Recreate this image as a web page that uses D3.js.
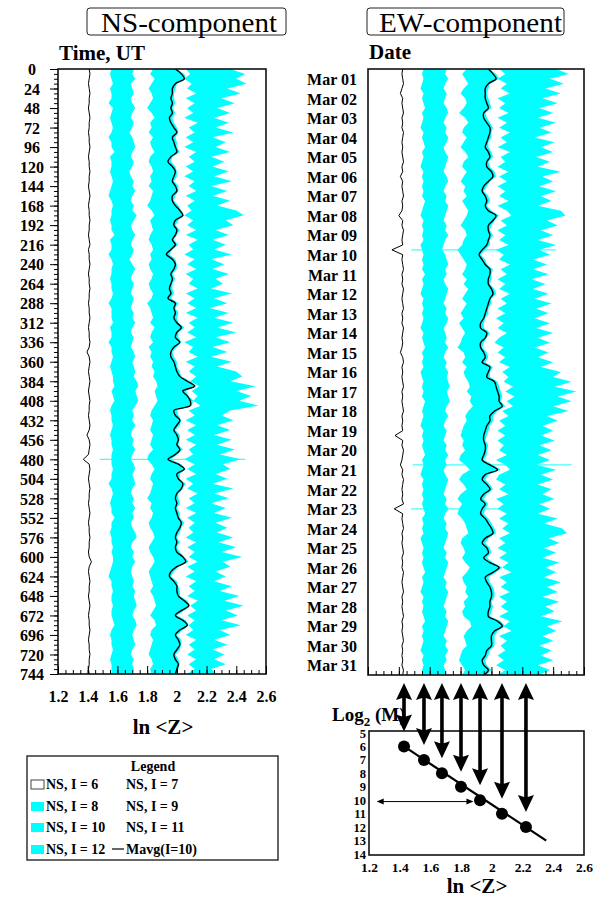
<!DOCTYPE html>
<html><head><meta charset="utf-8">
<script src="https://cdn.jsdelivr.net/npm/d3@7"></script>
<style>
html,body{margin:0;padding:0;background:#fff;}
svg{display:block;}
text{font-family:"Liberation Serif","Times New Roman",serif;}
</style></head><body>
<svg id="c" width="597" height="897"></svg>
<script>
// ---------------- DATA ----------------
const STEP_H = 6; // hours between samples
const hourTicks = [0,24,48,72,96,120,144,168,192,216,240,264,288,312,336,360,384,408,432,456,480,504,528,552,576,600,624,648,672,696,720,744];
const dateLabels = ["Mar 01","Mar 02","Mar 03","Mar 04","Mar 05","Mar 06","Mar 07","Mar 08","Mar 09","Mar 10","Mar 11","Mar 12","Mar 13","Mar 14","Mar 15","Mar 16","Mar 17","Mar 18","Mar 19","Mar 20","Mar 21","Mar 22","Mar 23","Mar 24","Mar 25","Mar 26","Mar 27","Mar 28","Mar 29","Mar 30","Mar 31"];
const lnzTicks = [1.2,1.4,1.6,1.8,2.0,2.2,2.4,2.6];
const lnzLabels = ["1.2","1.4","1.6","1.8","2","2.2","2.4","2.6"];
const mTicks = [5,6,7,8,9,10,11,12,13,14];

// NS component, ln<Z> for I = 6..12 and moving average of I=10
const nsI6 = [1.41,1.415,1.41,1.405,1.41, 1.415,1.41,1.41,1.405,1.41, 1.415,1.41,1.41,1.405,1.41, 1.41,1.415,1.41,1.405,1.41, 1.41,1.415,1.41,1.41,1.405,
 1.41,1.415,1.41,1.405,1.41, 1.41,1.415,1.41,1.41,1.405, 1.41,1.415,1.405,1.41,1.41, 1.415,1.41,1.405,1.41,1.41, 1.415,1.41,1.41,1.405,1.41,
 1.41,1.415,1.41,1.405,1.41, 1.41,1.415,1.41,1.395,1.41, 1.415,1.41,1.405,1.41,1.415, 1.41,1.405,1.41,1.415,1.41, 1.41,1.405,1.41,1.415,1.41,
 1.395,1.41,1.415,1.41,1.405, 1.37,1.41,1.415,1.41,1.405, 1.41,1.415,1.41,1.41,1.405, 1.41,1.415,1.41,1.405,1.41, 1.41,1.415,1.41,1.41,1.405,
 1.41,1.425,1.41,1.405,1.41, 1.415,1.41,1.41,1.405,1.41, 1.415,1.41,1.405,1.41,1.41, 1.415,1.41,1.405,1.41,1.41, 1.415,1.41,1.41,1.405,1.41];
const nsI7 = [1.56,1.55,1.56,1.57,1.55, 1.56,1.56,1.54,1.57,1.56, 1.55,1.56,1.57,1.56,1.54, 1.56,1.56,1.58,1.55,1.56, 1.56,1.55,1.56,1.57,1.56,
 1.55,1.54,1.56,1.57,1.56, 1.56,1.55,1.56,1.56,1.58, 1.55,1.56,1.56,1.54,1.56, 1.57,1.56,1.56,1.55,1.56, 1.56,1.57,1.56,1.54,1.56,
 1.56,1.56,1.57,1.55,1.56, 1.56,1.54,1.56,1.56,1.57, 1.56,1.55,1.56,1.57,1.57, 1.58,1.56,1.57,1.58,1.56, 1.55,1.56,1.56,1.57,1.56,
 1.55,1.56,1.56,1.57,1.56, 1.56,1.56,1.57,1.56,1.56, 1.54,1.56,1.57,1.56,1.55, 1.56,1.56,1.58,1.56,1.56, 1.55,1.56,1.56,1.57,1.56,
 1.57,1.57,1.56,1.55,1.54, 1.56,1.56,1.57,1.56,1.56, 1.57,1.56,1.56,1.57,1.58, 1.56,1.55,1.56,1.56,1.57, 1.56,1.55,1.56,1.56,1.56];
const nsI8 = [1.71,1.70,1.72,1.69,1.70, 1.71,1.69,1.70,1.72,1.70, 1.69,1.71,1.70,1.68,1.70, 1.71,1.72,1.70,1.69,1.71, 1.70,1.68,1.69,1.71,1.70,
 1.72,1.70,1.69,1.71,1.70, 1.73,1.71,1.69,1.70,1.72, 1.70,1.69,1.71,1.70,1.68, 1.70,1.72,1.70,1.69,1.71, 1.70,1.69,1.71,1.70,1.69,
 1.71,1.70,1.72,1.70,1.69, 1.71,1.70,1.69,1.71,1.72, 1.70,1.71,1.72,1.71,1.73, 1.74,1.72,1.73,1.74,1.72, 1.70,1.71,1.70,1.72,1.70,
 1.69,1.71,1.70,1.72,1.70, 1.69,1.71,1.72,1.70,1.71, 1.72,1.70,1.69,1.71,1.70, 1.72,1.70,1.71,1.69,1.70, 1.72,1.73,1.70,1.69,1.71,
 1.70,1.72,1.70,1.69,1.70, 1.71,1.70,1.72,1.71,1.72, 1.73,1.71,1.70,1.72,1.73, 1.71,1.70,1.71,1.72,1.70, 1.69,1.71,1.70,1.71,1.70];
const nsI9 = [1.84,1.82,1.85,1.83,1.81, 1.83,1.84,1.82,1.80,1.83, 1.85,1.82,1.83,1.81,1.84, 1.82,1.83,1.85,1.82,1.81, 1.83,1.84,1.82,1.83,1.81,
 1.84,1.83,1.82,1.80,1.83, 1.85,1.82,1.83,1.84,1.82, 1.81,1.83,1.84,1.82,1.83, 1.81,1.82,1.84,1.83,1.81, 1.82,1.84,1.83,1.80,1.82,
 1.83,1.84,1.82,1.85,1.83, 1.82,1.84,1.81,1.83,1.82, 1.84,1.83,1.85,1.84,1.86, 1.87,1.85,1.86,1.87,1.85, 1.83,1.82,1.84,1.83,1.82,
 1.84,1.83,1.82,1.84,1.81, 1.80,1.83,1.85,1.83,1.82, 1.84,1.83,1.82,1.80,1.83, 1.82,1.84,1.83,1.81,1.82, 1.84,1.85,1.83,1.81,1.82,
 1.84,1.85,1.83,1.81,1.82, 1.83,1.84,1.82,1.84,1.85, 1.86,1.84,1.82,1.85,1.86, 1.83,1.82,1.84,1.83,1.82, 1.81,1.83,1.84,1.82,1.83];
const nsI10 = [2.00,2.05,2.06,2.00,1.99, 1.98,1.98,1.99,1.97,1.99, 1.97,1.98,2.00,2.01,1.99, 2.00,2.00,2.02,1.97,1.96, 1.99,2.00,2.00,1.98,2.01,
 2.01,1.99,1.98,2.01,2.03, 2.05,2.01,1.99,2.02,2.00, 1.98,2.01,1.97,1.95,1.99, 2.00,2.00,1.97,1.99,1.97, 1.97,1.98,1.96,2.01,1.99,
 2.01,2.00,2.01,2.05,2.01, 2.01,2.03,2.00,1.97,1.98, 2.00,2.00,2.02,2.03,2.09, 2.13,2.06,2.08,2.11,2.10, 2.00,2.01,2.03,2.02,1.99,
 2.02,2.02,2.01,2.04,2.00, 1.96,2.03,2.06,2.02,2.02, 2.06,2.04,2.01,2.01,2.02, 2.00,2.02,2.02,2.05,2.03, 2.02,2.00,2.02,2.00,2.02,
 2.05,2.08,2.01,1.98,1.96, 2.00,2.01,2.02,2.02,2.07, 2.09,2.05,2.00,2.06,2.08, 2.04,2.00,2.03,2.03,2.02, 1.99,2.01,2.02,2.01,2.00];
const nsI11 = [2.06,2.09,2.05,2.10,2.07, 2.13,2.06,2.12,2.07,2.11, 2.05,2.14,2.08,2.12,2.06, 2.11,2.05,2.13,2.08,2.12, 2.06,2.11,2.05,2.12,2.08,
 2.13,2.06,2.12,2.07,2.10, 2.05,2.11,2.07,2.13,2.06, 2.14,2.08,2.11,2.05,2.12, 2.07,2.13,2.06,2.11,2.08, 2.14,2.06,2.12,2.07,2.13,
 2.06,2.14,2.08,2.12,2.07, 2.13,2.05,2.11,2.08,2.14, 2.06,2.12,2.08,2.13,2.09, 2.15,2.10,2.14,2.11,2.16, 2.08,2.12,2.06,2.13,2.07,
 2.12,2.06,2.13,2.08,2.11, 2.05,2.12,2.07,2.13,2.06, 2.11,2.07,2.14,2.08,2.12, 2.06,2.13,2.07,2.12,2.08, 2.11,2.06,2.13,2.07,2.12,
 2.08,2.14,2.07,2.12,2.06, 2.13,2.08,2.12,2.07,2.14, 2.09,2.13,2.07,2.12,2.08, 2.11,2.06,2.13,2.08,2.12, 2.07,2.13,2.08,2.12,2.07];
const nsI12 = [2.36,2.46,2.40,2.47,2.34, 2.43,2.30,2.39,2.27,2.36, 2.25,2.35,2.26,2.38,2.24, 2.33,2.26,2.36,2.23,2.32, 2.24,2.35,2.25,2.37,2.23,
 2.34,2.24,2.36,2.27,2.40, 2.45,2.33,2.38,2.26,2.35, 2.24,2.33,2.25,2.37,2.23, 2.32,2.24,2.35,2.26,2.31, 2.23,2.37,2.25,2.34,2.22,
 2.35,2.25,2.38,2.27,2.40, 2.26,2.36,2.24,2.34,2.23, 2.37,2.27,2.40,2.44,2.36, 2.53,2.40,2.50,2.42,2.55, 2.36,2.30,2.38,2.27,2.36,
 2.25,2.37,2.27,2.39,2.29, 2.43,2.31,2.36,2.26,2.34, 2.24,2.38,2.25,2.35,2.23, 2.33,2.25,2.37,2.26,2.34, 2.27,2.38,2.28,2.40,2.30,
 2.44,2.31,2.36,2.26,2.33, 2.25,2.37,2.29,2.42,2.32, 2.45,2.33,2.41,2.30,2.43, 2.29,2.36,2.25,2.34,2.24, 2.32,2.25,2.33,2.23,2.27];
const nsMavg = [1.99,2.03,2.05,1.99,1.97, 1.97,1.96,1.97,1.96,1.97, 1.95,1.96,1.98,2.00,1.97, 1.98,1.99,2.00,1.96,1.94, 1.97,1.99,1.98,1.97,1.99,
 2.00,1.97,1.97,1.99,2.02, 2.04,1.99,1.98,2.00,1.99, 1.97,1.99,1.96,1.93,1.97, 1.99,1.98,1.96,1.97,1.96, 1.95,1.96,1.94,1.99,1.98,
 1.99,1.98,2.00,2.03,2.00, 1.99,2.02,1.98,1.96,1.96, 1.98,1.99,2.00,2.02,2.07, 2.12,2.04,2.07,2.09,2.09, 1.98,1.99,2.02,2.00,1.98,
 2.00,2.01,2.00,2.02,1.99, 1.94,2.01,2.05,2.00,2.01, 2.04,2.03,2.00,1.99,2.00, 1.99,2.00,2.01,2.03,2.02, 2.00,1.99,2.00,1.99,2.00,
 2.04,2.06,2.00,1.96,1.95, 1.98,2.00,2.00,2.01,2.05, 2.08,2.03,1.99,2.04,2.07, 2.02,1.99,2.01,2.02,2.00, 1.98,1.99,2.01,2.00,1.99];
const nsGlitchT = [480], nsGlitchLo = [1.48], nsGlitchHi = [2.46];

// EW component
const ewI6 = [1.425,1.42,1.425,1.43,1.42, 1.41,1.425,1.42,1.425,1.43, 1.42,1.425,1.42,1.43,1.425, 1.42,1.425,1.42,1.425,1.43, 1.42,1.425,1.41,1.425,1.42,
 1.425,1.43,1.42,1.425,1.42, 1.40,1.425,1.42,1.43,1.425, 1.42,1.425,1.355,1.425,1.42, 1.425,1.43,1.42,1.425,1.42, 1.43,1.425,1.42,1.425,1.43,
 1.42,1.425,1.42,1.43,1.425, 1.42,1.425,1.42,1.41,1.425, 1.43,1.42,1.425,1.42,1.425, 1.43,1.42,1.425,1.42,1.425, 1.43,1.42,1.425,1.42,1.425,
 1.375,1.425,1.42,1.43,1.425, 1.42,1.41,1.425,1.42,1.43, 1.425,1.42,1.425,1.42,1.43, 1.37,1.425,1.42,1.425,1.43, 1.42,1.425,1.42,1.425,1.43,
 1.42,1.425,1.42,1.43,1.425, 1.42,1.425,1.43,1.42,1.425, 1.42,1.425,1.43,1.42,1.425, 1.42,1.425,1.43,1.42,1.425, 1.42,1.425,1.42,1.43,1.425];
const ewI7 = [1.56,1.55,1.56,1.55,1.54, 1.56,1.55,1.56,1.57,1.55, 1.56,1.55,1.54,1.56,1.55, 1.56,1.57,1.55,1.56,1.55, 1.54,1.56,1.55,1.56,1.55,
 1.56,1.55,1.57,1.56,1.55, 1.54,1.56,1.55,1.56,1.55, 1.56,1.54,1.55,1.56,1.55, 1.56,1.55,1.57,1.55,1.56, 1.55,1.54,1.56,1.55,1.56,
 1.55,1.56,1.55,1.54,1.56, 1.55,1.56,1.57,1.55,1.56, 1.55,1.56,1.54,1.55,1.56, 1.55,1.56,1.55,1.57,1.56, 1.55,1.56,1.55,1.54,1.56,
 1.55,1.56,1.55,1.56,1.57, 1.55,1.56,1.55,1.54,1.56, 1.55,1.56,1.55,1.56,1.55, 1.56,1.57,1.55,1.56,1.55, 1.56,1.54,1.55,1.56,1.55,
 1.56,1.55,1.56,1.57,1.55, 1.56,1.55,1.54,1.56,1.55, 1.56,1.55,1.56,1.57,1.55, 1.56,1.55,1.56,1.55,1.54, 1.56,1.55,1.56,1.55,1.56];
const ewI8 = [1.71,1.70,1.72,1.70,1.69, 1.71,1.70,1.69,1.71,1.72, 1.70,1.69,1.71,1.70,1.72, 1.71,1.69,1.70,1.72,1.71, 1.70,1.69,1.71,1.72,1.70,
 1.69,1.71,1.70,1.72,1.71, 1.70,1.69,1.71,1.70,1.72, 1.70,1.69,1.68,1.70,1.71, 1.72,1.70,1.71,1.69,1.70, 1.72,1.71,1.70,1.69,1.71,
 1.70,1.72,1.71,1.69,1.70, 1.71,1.70,1.72,1.70,1.69, 1.71,1.70,1.72,1.71,1.72, 1.73,1.71,1.72,1.73,1.71, 1.70,1.72,1.70,1.69,1.71,
 1.70,1.69,1.71,1.70,1.72, 1.70,1.71,1.69,1.70,1.72, 1.71,1.70,1.69,1.71,1.70, 1.72,1.70,1.69,1.71,1.70, 1.72,1.71,1.70,1.69,1.71,
 1.70,1.72,1.71,1.70,1.69, 1.71,1.70,1.72,1.71,1.70, 1.69,1.71,1.70,1.72,1.71, 1.70,1.69,1.71,1.70,1.72, 1.70,1.71,1.69,1.70,1.71];
const ewI9 = [1.84,1.81,1.83,1.85,1.82, 1.80,1.83,1.84,1.82,1.79, 1.83,1.85,1.82,1.81,1.84, 1.82,1.80,1.83,1.85,1.82, 1.81,1.84,1.82,1.80,1.83,
 1.82,1.84,1.81,1.83,1.85, 1.84,1.82,1.80,1.83,1.84, 1.82,1.81,1.78,1.80,1.82, 1.84,1.83,1.81,1.84,1.82, 1.85,1.83,1.81,1.84,1.82,
 1.80,1.82,1.79,1.81,1.83, 1.81,1.80,1.78,1.82,1.83, 1.81,1.84,1.82,1.83,1.85, 1.86,1.84,1.87,1.86,1.88, 1.85,1.83,1.84,1.82,1.81,
 1.80,1.82,1.81,1.83,1.80, 1.79,1.83,1.86,1.81,1.79, 1.82,1.84,1.80,1.78,1.81, 1.79,1.78,1.81,1.83,1.84, 1.85,1.81,1.80,1.82,1.83,
 1.81,1.83,1.86,1.84,1.81, 1.82,1.84,1.83,1.85,1.82, 1.83,1.81,1.82,1.86,1.87, 1.84,1.82,1.83,1.84,1.81, 1.80,1.79,1.81,1.83,1.81];
const ewI10 = [1.99,2.03,2.05,1.99,1.98, 1.97,1.98,1.99,2.00,1.96, 1.97,1.99,2.01,2.00,2.00, 1.98,1.98,2.00,2.01,1.98, 1.99,2.02,2.03,1.99,1.97,
 1.95,1.98,1.99,1.97,2.00, 2.05,2.02,2.00,1.99,2.01, 1.99,1.99,1.96,1.93,1.96, 1.97,2.01,2.00,2.00,1.99, 2.02,2.03,2.00,2.00,1.98,
 1.98,1.96,1.95,1.95,1.99, 1.97,1.95,1.94,1.97,1.98, 1.96,2.01,1.99,1.99,2.04, 2.05,2.06,2.07,2.06,2.09, 2.04,2.01,2.01,1.99,1.98,
 1.97,1.96,1.98,1.97,1.97, 1.95,2.01,2.06,1.98,1.96, 1.99,2.01,1.97,1.95,1.98, 1.96,1.95,1.98,2.00,2.02, 2.03,1.98,1.96,1.99,2.00,
 1.97,2.01,2.07,2.03,1.98, 1.99,2.01,2.02,2.02,2.00, 2.01,2.00,1.99,2.06,2.09, 2.04,2.02,2.02,2.02,1.99, 1.98,1.96,1.97,2.00,1.97];
const ewI11 = [2.05,2.09,2.04,2.10,2.06, 2.12,2.04,2.09,2.05,2.11, 2.04,2.10,2.05,2.12,2.06, 2.10,2.04,2.12,2.06,2.09, 2.04,2.11,2.05,2.10,2.04,
 2.09,2.05,2.11,2.04,2.10, 2.13,2.06,2.10,2.04,2.09, 2.05,2.11,2.03,2.08,2.05, 2.12,2.06,2.10,2.04,2.09, 2.05,2.12,2.06,2.10,2.04,
 2.09,2.03,2.08,2.04,2.10, 2.05,2.02,2.08,2.04,2.09, 2.05,2.12,2.07,2.11,2.08, 2.14,2.09,2.15,2.10,2.14, 2.07,2.11,2.05,2.09,2.04,
 2.09,2.04,2.08,2.05,2.10, 2.03,2.09,2.12,2.05,2.03, 2.09,2.05,2.11,2.03,2.08, 2.04,2.10,2.05,2.11,2.07, 2.12,2.05,2.09,2.04,2.10,
 2.05,2.11,2.07,2.13,2.05, 2.10,2.06,2.12,2.05,2.10, 2.06,2.11,2.05,2.12,2.08, 2.13,2.05,2.10,2.06,2.09, 2.04,2.08,2.03,2.09,2.04];
const ewI12 = [2.42,2.50,2.38,2.47,2.35, 2.45,2.33,2.43,2.31,2.40, 2.30,2.42,2.31,2.39,2.28, 2.41,2.32,2.40,2.29,2.38, 2.30,2.45,2.33,2.40,2.31,
 2.42,2.32,2.39,2.30,2.45, 2.48,2.36,2.43,2.32,2.40, 2.30,2.42,2.31,2.38,2.27, 2.36,2.27,2.37,2.26,2.35, 2.27,2.37,2.28,2.39,2.29,
 2.37,2.28,2.38,2.29,2.40, 2.30,2.38,2.28,2.37,2.30, 2.40,2.32,2.45,2.40,2.52, 2.41,2.55,2.43,2.52,2.40, 2.50,2.36,2.43,2.33,2.40,
 2.32,2.41,2.31,2.39,2.30, 2.38,2.29,2.42,2.32,2.40, 2.30,2.39,2.33,2.41,2.31, 2.38,2.30,2.43,2.34,2.46, 2.49,2.37,2.44,2.34,2.42,
 2.33,2.44,2.35,2.42,2.34, 2.45,2.36,2.43,2.33,2.44, 2.35,2.41,2.32,2.46,2.36, 2.42,2.33,2.40,2.31,2.39, 2.32,2.40,2.30,2.38,2.31];
const ewMavg = [1.98,2.01,2.03,1.98,1.96, 1.96,1.96,1.97,1.98,1.95, 1.95,1.97,1.99,1.99,1.98, 1.97,1.96,1.98,1.99,1.97, 1.97,2.00,2.01,1.98,1.95,
 1.94,1.96,1.97,1.96,1.98, 2.03,2.01,1.98,1.98,1.99, 1.98,1.97,1.94,1.92,1.94, 1.96,1.99,1.99,1.98,1.98, 2.00,2.01,1.99,1.98,1.97,
 1.96,1.95,1.93,1.93,1.97, 1.96,1.93,1.93,1.95,1.96, 1.94,1.99,1.98,1.97,2.02, 2.03,2.04,2.05,2.05,2.07, 2.02,1.99,1.99,1.97,1.96,
 1.95,1.95,1.96,1.96,1.95, 1.94,1.99,2.04,1.96,1.94, 1.97,1.99,1.95,1.93,1.96, 1.94,1.93,1.96,1.98,2.00, 2.01,1.96,1.94,1.97,1.98,
 1.95,1.99,2.05,2.01,1.96, 1.97,1.99,2.00,2.00,1.99, 1.99,1.98,1.98,2.04,2.07, 2.02,2.00,2.00,2.00,1.97, 1.96,1.94,1.95,1.98,1.95];
const ewGlitchT = [222,486,540], ewGlitchLo = [1.48,1.49,1.48], ewGlitchHi = [2.42,2.52,2.15];

// lower panel: ln<Z> of I=6..12 vs log2(M)
const dotLnZ = [1.428,1.558,1.675,1.799,1.923,2.066,2.222];
const dotM = [6,7,8,9,10,11,12];
const fitLnZ = [1.428,2.354];
const fitM = [6,13];
const hArrowLnZ = [1.25,1.88];
const hArrowM = 10.1;

const legendCol1 = ["NS, I = 6","NS, I = 8","NS, I = 10","NS, I = 12"];
const legendCol2 = ["NS, I = 7","NS, I = 9","NS, I = 11","Mavg(I=10)"];
const legendSwatch = ["outline","fill","fill","fill"];

// ---------------- DRAWING ----------------
const CYAN = "#00ffff";
const FONT = "'Liberation Serif','Times New Roman',serif";
const svg = d3.select("#c");
svg.append("rect").attr("width",597).attr("height",897).attr("fill","#fff");
const defs = svg.append("defs");

function styleAxis(g, size){
  g.select(".domain").remove();
  g.selectAll(".tick line").attr("stroke","#000").attr("stroke-width",1);
  g.selectAll("text").attr("font-family",FONT).attr("font-weight","bold").attr("font-size",size).attr("fill","#000");
}

function drawPanel(id, x, y, s, glitch){
  const [x0,x1] = x.range(), [y0,y1] = y.range();
  defs.append("clipPath").attr("id",id).append("rect")
    .attr("x",x0).attr("y",y0).attr("width",x1-x0).attr("height",y1-y0);
  const g = svg.append("g").attr("clip-path",`url(#${id})`);
  const area = d3.area().curve(d3.curveLinear)
    .y((d,i)=>y(i*STEP_H)).x0(x(1.2)).x1(d=>x(d));
  [[s.i12,CYAN],[s.i11,"#fff"],[s.i10,CYAN],[s.i9,"#fff"],[s.i8,CYAN],[s.i7,"#fff"]]
    .forEach(([arr,c])=>g.append("path").attr("d",area(arr)).attr("fill",c));
  g.selectAll("line.gl").data(glitch.t).join("line").attr("class","gl")
    .attr("x1",(d,i)=>x(glitch.lo[i])).attr("x2",(d,i)=>x(glitch.hi[i]))
    .attr("y1",d=>y(d)).attr("y2",d=>y(d))
    .attr("stroke",CYAN).attr("stroke-width",1.3).attr("opacity",0.75);
  const line = d3.line().x(d=>x(d)).y((d,i)=>y(i*STEP_H));
  g.append("path").attr("d",line(s.i6)).attr("fill","none").attr("stroke","#000").attr("stroke-width",1);
  g.append("path").attr("d",line.curve(d3.curveCatmullRom)(s.mavg)).attr("fill","none")
    .attr("stroke","#000").attr("stroke-width",1.4);
  svg.append("rect").attr("x",x0).attr("y",y0).attr("width",x1-x0).attr("height",y1-y0)
    .attr("fill","none").attr("stroke","#111").attr("stroke-width",1.6);
}

// ---- NS panel ----
const nsX = d3.scaleLinear().domain([1.2,2.6]).range([58,266]);
const nsY = d3.scaleLinear().domain([0,744]).range([69,674]);
drawPanel("clipNS", nsX, nsY,
  {i6:nsI6,i7:nsI7,i8:nsI8,i9:nsI9,i10:nsI10,i11:nsI11,i12:nsI12,mavg:nsMavg},
  {t:nsGlitchT,lo:nsGlitchLo,hi:nsGlitchHi});

const minorH = d3.range(0,745,6);
const minorZ = d3.range(0,29).map(i=>1.2+i*0.05);
let a = svg.append("g").attr("transform","translate(58,0)")
  .call(d3.axisLeft(nsY).tickValues(minorH).tickSize(4).tickFormat(""));
styleAxis(a,16);
a = svg.append("g").attr("transform","translate(58,0)")
  .call(d3.axisLeft(nsY).tickValues(hourTicks).tickSize(8).tickFormat(d3.format("d")));
styleAxis(a,16);
a.selectAll("text").attr("x",-26).attr("text-anchor","middle").attr("dy","0.36em");
a = svg.append("g").attr("transform","translate(0,674)")
  .call(d3.axisBottom(nsX).tickValues(minorZ).tickSize(-4).tickFormat(""));
styleAxis(a,16);
a = svg.append("g").attr("transform","translate(0,674)")
  .call(d3.axisBottom(nsX).tickValues(lnzTicks).tickSize(-8).tickFormat((d,i)=>lnzLabels[i]));
styleAxis(a,16);
a.selectAll("text").attr("y",28).attr("dy",null);

// ---- EW panel ----
const ewX = d3.scaleLinear().domain([1.2,2.6]).range([368,584]);
const ewY = d3.scaleLinear().domain([0,744]).range([69,675]);
drawPanel("clipEW", ewX, ewY,
  {i6:ewI6,i7:ewI7,i8:ewI8,i9:ewI9,i10:ewI10,i11:ewI11,i12:ewI12,mavg:ewMavg},
  {t:ewGlitchT,lo:ewGlitchLo,hi:ewGlitchHi});
a = svg.append("g").attr("transform","translate(368,0)")
  .call(d3.axisLeft(ewY).tickValues(dateLabels.map((d,i)=>12+24*i)).tickSize(0).tickPadding(11)
    .tickFormat((d,i)=>dateLabels[i]));
styleAxis(a,16);
a.selectAll("text").attr("dy","0.36em");
a = svg.append("g").attr("transform","translate(0,675)")
  .call(d3.axisBottom(ewX).tickValues(minorZ).tickSize(-4).tickFormat(""));
styleAxis(a,16);
a = svg.append("g").attr("transform","translate(0,675)")
  .call(d3.axisBottom(ewX).tickValues(lnzTicks).tickSize(-8).tickFormat(""));
styleAxis(a,16);

// ---- lower panel ----
const lowX = d3.scaleLinear().domain([1.2,2.6]).range([369,584]);
const lowY = d3.scaleLinear().domain([5,14]).range([733,854]);
svg.append("rect").attr("x",369).attr("y",731).attr("width",215).attr("height",124)
  .attr("fill","none").attr("stroke","#111").attr("stroke-width",1.6);
a = svg.append("g").attr("transform","translate(369,0)")
  .call(d3.axisLeft(lowY).tickValues(mTicks).tickSize(0).tickPadding(3));
styleAxis(a,12.5);
a.selectAll("text").attr("dy","0.32em");
a = svg.append("g").attr("transform","translate(0,855)")
  .call(d3.axisBottom(lowX).tickValues(lnzTicks).tickSize(0).tickFormat((d,i)=>lnzLabels[i]));
styleAxis(a,13.5);
a.selectAll("text").attr("y",17).attr("dy",null);

// fit line and dots
svg.append("line").attr("x1",lowX(fitLnZ[0])).attr("y1",lowY(fitM[0]))
  .attr("x2",lowX(fitLnZ[1])).attr("y2",lowY(fitM[1])).attr("stroke","#000").attr("stroke-width",2.2);
svg.selectAll("circle.dot").data(dotLnZ).join("circle").attr("class","dot")
  .attr("cx",d=>lowX(d)).attr("cy",(d,i)=>lowY(dotM[i])).attr("r",6).attr("fill","#000");

// vertical double arrows
const yTop = 683, headL = 17, headW = 8, shaftW = 3.6;
function dblArrowV(xc, ya, yb){
  const p = d3.path();
  p.moveTo(xc, ya); p.lineTo(xc+headW, ya+headL); p.lineTo(xc+shaftW/2, ya+headL-2);
  p.lineTo(xc+shaftW/2, yb-headL+2); p.lineTo(xc+headW, yb-headL); p.lineTo(xc, yb);
  p.lineTo(xc-headW, yb-headL); p.lineTo(xc-shaftW/2, yb-headL+2);
  p.lineTo(xc-shaftW/2, ya+headL-2); p.lineTo(xc-headW, ya+headL); p.closePath();
  return p.toString();
}
svg.selectAll("path.varr").data(dotLnZ).join("path").attr("class","varr")
  .attr("d",(d,i)=>dblArrowV(lowX(d), yTop, lowY(dotM[i])-15)).attr("fill","#000");

// thin horizontal double arrow
const hx0 = lowX(hArrowLnZ[0]), hx1 = lowX(hArrowLnZ[1]), hy = lowY(hArrowM);
svg.append("line").attr("x1",hx0+2).attr("x2",hx1-2).attr("y1",hy).attr("y2",hy).attr("stroke","#000").attr("stroke-width",1);
svg.append("path").attr("d",`M${hx0},${hy}l7,-3l0,6z M${hx1},${hy}l-7,-3l0,6z`).attr("fill","#000");

// ---- texts ----
function txt(x,y,s,size,weight,anchor){
  return svg.append("text").attr("x",x).attr("y",y).text(s).attr("font-family",FONT)
    .attr("font-size",size).attr("font-weight",weight||"normal").attr("text-anchor",anchor||"start").attr("fill","#000");
}
svg.append("rect").attr("x",87).attr("y",8).attr("width",199).attr("height",27).attr("rx",3)
  .attr("fill","#fff").attr("stroke","#222").attr("stroke-width",1);
txt(101,31.5,"NS-component",27).attr("textLength",176).attr("lengthAdjust","spacingAndGlyphs");
svg.append("rect").attr("x",367).attr("y",8).attr("width",197).attr("height",27).attr("rx",3)
  .attr("fill","#fff").attr("stroke","#222").attr("stroke-width",1);
txt(379,31.5,"EW-component",27).attr("textLength",183).attr("lengthAdjust","spacingAndGlyphs");
txt(59,59.5,"Time, UT",21,"bold");
txt(369,59,"Date",21,"bold");
txt(163,734,"ln <Z>",21,"bold","middle");
txt(477,893,"ln <Z>",21,"bold","middle");
const lg = txt(332,721,"Log",19,"bold");
lg.append("tspan").attr("font-size",13).attr("dy",5).text("2");
lg.append("tspan").attr("dy",-5).text(" (M)");

// ---- legend ----
svg.append("rect").attr("x",27).attr("y",756).attr("width",251).attr("height",104)
  .attr("fill","#fff").attr("stroke","#333").attr("stroke-width",1.5);
txt(153,771,"Legend",14,"bold","middle");
const rowY = [789,811,832,854];
legendCol1.forEach((s,i)=>{
  const sw = svg.append("rect").attr("x",31).attr("y",rowY[i]-9).attr("width",13).attr("height",9);
  if(legendSwatch[i]==="outline") sw.attr("fill","#fff").attr("stroke","#444").attr("stroke-width",1);
  else sw.attr("fill",CYAN);
  txt(46,rowY[i],s,14,"bold");
  txt(126,rowY[i],legendCol2[i],14,"bold");
});
svg.append("line").attr("x1",112).attr("x2",124).attr("y1",rowY[3]-5).attr("y2",rowY[3]-5)
  .attr("stroke","#000").attr("stroke-width",1.2);
</script></body></html>
